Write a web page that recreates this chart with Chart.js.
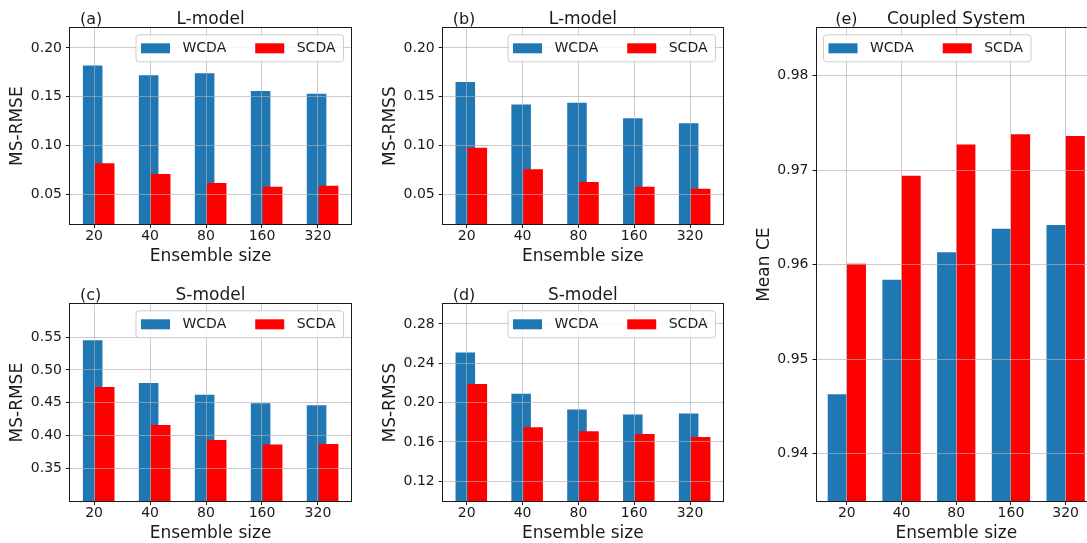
<!DOCTYPE html>
<html>
<head>
<meta charset="utf-8">
<script src="https://cdn.jsdelivr.net/npm/chart.js@4.4.0/dist/chart.umd.min.js"></script>
<style>
html, body { margin:0; padding:0; background:#fff; overflow:hidden; width:1087px; height:543px; }
.box { position:absolute; }
</style>
</head>
<body>
<div class="box" id="wa"><canvas id="ca"></canvas></div>
<div class="box" id="wb"><canvas id="cb"></canvas></div>
<div class="box" id="wc"><canvas id="cc"></canvas></div>
<div class="box" id="wd"><canvas id="cd"></canvas></div>
<div class="box" id="we"><canvas id="ce"></canvas></div>
<script>
// ---------------- data ----------------
const categories = ['20', '40', '80', '160', '320'];
const seriesNames = ['WCDA', 'SCDA'];

const lRmseWCDA = [0.182, 0.172, 0.174, 0.156, 0.153];
const lRmseSCDA = [0.082, 0.071, 0.062, 0.058, 0.059];
const lRmssWCDA = [0.165, 0.142, 0.144, 0.128, 0.123];
const lRmssSCDA = [0.098, 0.076, 0.063, 0.058, 0.056];
const sRmseWCDA = [0.545, 0.480, 0.462, 0.449, 0.446];
const sRmseSCDA = [0.474, 0.416, 0.393, 0.386, 0.387];
const sRmssWCDA = [0.251, 0.209, 0.193, 0.188, 0.189];
const sRmssSCDA = [0.219, 0.175, 0.171, 0.168, 0.165];
const ceWCDA = [0.9463, 0.9584, 0.9613, 0.9638, 0.9642];
const ceSCDA = [0.9601, 0.9694, 0.9727, 0.9738, 0.9736];

const ticksLRmse = [0.05, 0.10, 0.15, 0.20];
const ticksLRmss = [0.05, 0.10, 0.15, 0.20];
const ticksSRmse = [0.35, 0.40, 0.45, 0.50, 0.55];
const ticksSRmss = [0.12, 0.16, 0.20, 0.24, 0.28];
const ticksCE = [0.94, 0.95, 0.96, 0.97, 0.98];

// ---------------- style ----------------
Chart.defaults.font.family = '"DejaVu Sans", "Liberation Sans", sans-serif';
Chart.defaults.color = '#1a1a1a';
const BLUE = '#1f77b4', RED = '#ff0000';
const INK = '#1a1a1a';
const GRID = 'rgba(176,176,176,0.65)';
const FONT = '"DejaVu Sans", "Liberation Sans", sans-serif';
const BAR_W = 0.35, WC_OFF = -0.025, SC_OFF = 0.19;

const decor = {
  id: 'decor',
  afterDraw(chart, args, o) {
    const ctx = chart.ctx, a = chart.chartArea;
    ctx.save();
    // frame
    ctx.strokeStyle = INK;
    ctx.lineWidth = 1;
    const l = Math.round(a.left) - 0.5, t = Math.round(a.top) - 0.5;
    const r = Math.round(a.right) + 0.5, b = Math.round(a.bottom) + 0.5;
    ctx.strokeRect(l, t, r - l, b - t);
    // title + tag
    ctx.fillStyle = INK;
    ctx.textBaseline = 'alphabetic';
    ctx.font = '17px ' + FONT;
    ctx.textAlign = 'center';
    ctx.fillText(o.title, (a.left + a.right) / 2, a.top - 4);
    ctx.font = '16px ' + FONT;
    ctx.textAlign = 'left';
    ctx.fillText(o.tag, a.left + o.tagDx, a.top - 4);
    // legend (matplotlib style)
    ctx.font = '14px ' + FONT;
    const ds = chart.data.datasets;
    const padL = 5, hl = 29, tp = 12.5, cs = 29, padR = 8, H = 27;
    const widths = ds.map(d => ctx.measureText(d.label).width);
    let W = padL + padR + cs * (ds.length - 1);
    widths.forEach(w => { W += hl + tp + w; });
    const x0 = o.legendLoc === 'right' ? a.right - 7.5 - W : a.left + 7;
    const y0 = a.top + 6.5;
    ctx.beginPath();
    ctx.roundRect(x0, y0, W, H, 3);
    ctx.fillStyle = 'rgba(255,255,255,0.8)';
    ctx.fill();
    ctx.strokeStyle = '#cccccc';
    ctx.stroke();
    let x = x0 + padL;
    ds.forEach((d, i) => {
      ctx.fillStyle = d.backgroundColor;
      ctx.fillRect(x, y0 + 8.5, hl, 10);
      ctx.fillStyle = INK;
      ctx.textBaseline = 'middle';
      ctx.fillText(d.label, x + hl + tp, y0 + H / 2 + 0.5);
      x += hl + tp + widths[i] + cs;
    });
    ctx.restore();
  }
};

function panel(cfg) {
  const wrap = document.getElementById(cfg.wrap);
  wrap.style.left = cfg.cont.l + 'px';
  wrap.style.top = cfg.cont.t + 'px';
  wrap.style.width = cfg.cont.w + 'px';
  wrap.style.height = cfg.cont.h + 'px';
  const yW = cfg.plot.l - cfg.cont.l;
  const xH = cfg.cont.t + cfg.cont.h - cfg.plot.b;
  const padTop = cfg.plot.t - cfg.cont.t;
  const padRight = cfg.cont.l + cfg.cont.w - cfg.plot.r;

  let datasets;
  if (cfg.overlap) {
    const gap = SC_OFF - WC_OFF;
    datasets = [
      { label: seriesNames[0], data: cfg.wc.map((v, i) => ({ x: i + WC_OFF, y: v })), backgroundColor: BLUE,
        grouped: false, order: 1, categoryPercentage: 1, barPercentage: BAR_W / gap, borderWidth: 0 },
      { label: seriesNames[1], data: cfg.sc.map((v, i) => ({ x: i + SC_OFF, y: v })), backgroundColor: RED,
        grouped: false, order: 0, categoryPercentage: 1, barPercentage: BAR_W / gap, borderWidth: 0 }
    ];
  } else {
    datasets = [
      { label: seriesNames[0], data: cfg.wc.map((v, i) => ({ x: i, y: v })), backgroundColor: BLUE,
        categoryPercentage: 2 * BAR_W, barPercentage: 1, borderWidth: 0 },
      { label: seriesNames[1], data: cfg.sc.map((v, i) => ({ x: i, y: v })), backgroundColor: RED,
        categoryPercentage: 2 * BAR_W, barPercentage: 1, borderWidth: 0 }
    ];
  }
  const gridOpts = { offset: false, color: GRID, lineWidth: 1, drawTicks: true, tickLength: 4,
                     tickColor: INK, tickWidth: 1, z: 1 };
  new Chart(document.getElementById(cfg.canvas), {
    type: 'bar',
    data: { datasets },
    plugins: [decor],
    options: {
      animation: false,
      responsive: true,
      maintainAspectRatio: false,
      events: [],
      layout: { autoPadding: false, padding: { left: 0, top: padTop, right: padRight, bottom: 0 } },
      plugins: {
        legend: { display: false },
        tooltip: { enabled: false },
        decor: { title: cfg.title, tag: cfg.tag, tagDx: cfg.tagDx, legendLoc: cfg.legendLoc }
      },
      scales: {
        x: {
          type: 'linear', min: cfg.xmin, max: cfg.xmax, offset: false, z: 1,
          afterBuildTicks: s => { s.ticks = categories.map((c, i) => ({ value: i })); },
          afterFit: s => { s.height = xH; },
          grid: gridOpts,
          border: { display: false },
          ticks: { callback: v => categories[Math.round(v)], font: { size: 14, lineHeight: 1 }, padding: 1.5,
                   color: INK, maxRotation: 0, autoSkip: false, z: 1 },
          title: { display: true, text: 'Ensemble size', font: { size: 17, lineHeight: 1 }, color: INK,
                   padding: { top: 0, bottom: 5 } }
        },
        y: {
          type: 'linear', min: cfg.ymin, max: cfg.ymax, beginAtZero: false, z: 1,
          afterBuildTicks: s => { s.ticks = cfg.yticks.map(v => ({ value: v })); },
          afterFit: s => { s.width = yW; },
          grid: gridOpts,
          border: { display: false },
          ticks: { callback: v => v.toFixed(2), font: { size: 14 }, padding: 4, color: INK, z: 1 },
          title: { display: true, text: cfg.ylabel, font: { size: 17, lineHeight: 1 }, color: INK,
                   padding: { top: yW - 52 - 8.5, bottom: 0 } }
        }
      }
    }
  });
}

const OV_XMIN = -0.43, OV_XMAX = 4.59;
panel({ wrap: 'wa', canvas: 'ca', cont: { l: 0, t: 0, w: 365, h: 270 }, plot: { l: 70, t: 28.3, r: 351, b: 224 },
  wc: lRmseWCDA, sc: lRmseSCDA, ymin: 0.02, ymax: 0.22, yticks: ticksLRmse, ylabel: 'MS-RMSE',
  title: 'L-model', tag: '(a)', tagDx: 10, legendLoc: 'right', overlap: true, xmin: OV_XMIN, xmax: OV_XMAX });
panel({ wrap: 'wb', canvas: 'cb', cont: { l: 365, t: 0, w: 370, h: 270 }, plot: { l: 442.7, t: 28.3, r: 723, b: 224 },
  wc: lRmssWCDA, sc: lRmssSCDA, ymin: 0.02, ymax: 0.22, yticks: ticksLRmss, ylabel: 'MS-RMSS',
  title: 'L-model', tag: '(b)', tagDx: 10, legendLoc: 'right', overlap: true, xmin: OV_XMIN, xmax: OV_XMAX });
panel({ wrap: 'wc', canvas: 'cc', cont: { l: 0, t: 270, w: 365, h: 277 }, plot: { l: 70, t: 304.3, r: 351, b: 501 },
  wc: sRmseWCDA, sc: sRmseSCDA, ymin: 0.30, ymax: 0.60, yticks: ticksSRmse, ylabel: 'MS-RMSE',
  title: 'S-model', tag: '(c)', tagDx: 10, legendLoc: 'right', overlap: true, xmin: OV_XMIN, xmax: OV_XMAX });
panel({ wrap: 'wd', canvas: 'cd', cont: { l: 365, t: 270, w: 370, h: 277 }, plot: { l: 442.7, t: 304.3, r: 723, b: 501 },
  wc: sRmssWCDA, sc: sRmssSCDA, ymin: 0.10, ymax: 0.30, yticks: ticksSRmss, ylabel: 'MS-RMSS',
  title: 'S-model', tag: '(d)', tagDx: 10, legendLoc: 'right', overlap: true, xmin: OV_XMIN, xmax: OV_XMAX });
panel({ wrap: 'we', canvas: 'ce', cont: { l: 735, t: 0, w: 380, h: 547 }, plot: { l: 816.5, t: 28.3, r: 1096, b: 501 },
  wc: ceWCDA, sc: ceSCDA, ymin: 0.935, ymax: 0.985, yticks: ticksCE, ylabel: 'Mean CE',
  title: 'Coupled System', tag: '(e)', tagDx: 18.7, legendLoc: 'left', overlap: false, xmin: -0.555, xmax: 4.555 });
</script>
</body>
</html>
